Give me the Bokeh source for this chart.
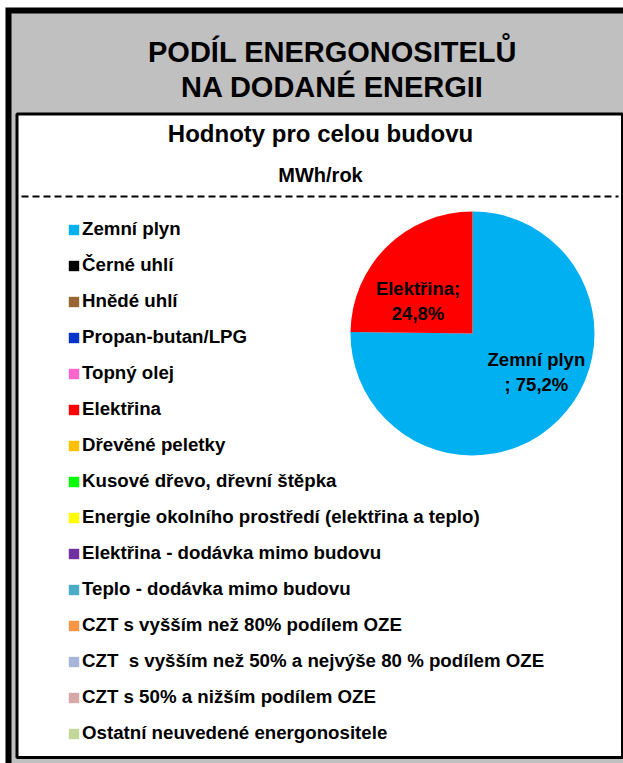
import numpy as np
from bokeh.plotting import figure
from bokeh.models import ColumnDataSource, Range1d, BoxAnnotation, Label, Legend, LegendItem
from bokeh.embed import file_html
from bokeh.resources import INLINE
from bokeh.core.properties import value

# ---------------- data ----------------
title_lines = ["PODÍL ENERGONOSITELŮ", "NA DODANÉ ENERGII"]
subtitle = "Hodnoty pro celou budovu"
unit_label = "MWh/rok"

categories = [
    "Zemní plyn",
    "Černé uhlí",
    "Hnědé uhlí",
    "Propan-butan/LPG",
    "Topný olej",
    "Elektřina",
    "Dřevěné peletky",
    "Kusové dřevo, dřevní štěpka",
    "Energie okolního prostředí (elektřina a teplo)",
    "Elektřina - dodávka mimo budovu",
    "Teplo - dodávka mimo budovu",
    "CZT s vyšším než 80% podílem OZE",
    "CZT  s vyšším než 50% a nejvýše 80 % podílem OZE",
    "CZT s 50% a nižším podílem OZE",
    "Ostatní neuvedené energonositele",
]
shares = [75.2, 0, 0, 0, 0, 24.8, 0, 0, 0, 0, 0, 0, 0, 0, 0]
colors = [
    "#00B0F0", "#000000", "#996633", "#0033CC", "#FF66CC",
    "#FF0000", "#FFC000", "#00FF00", "#FFFF00", "#7030A0",
    "#4BACC6", "#F79646", "#A6B6D8", "#D8A8A8", "#C4D79B",
]

# ---------------- layout helpers (page pixels, y measured from top) ----------------
W, H = 623, 763
def X(px):
    return px
def Y(py):
    return H - py

FONT = "Liberation Sans"

p = figure(width=W, height=H, x_range=Range1d(0, W), y_range=Range1d(0, H),
           output_backend="svg", toolbar_location=None, min_border=0)
p.axis.visible = False
p.grid.visible = False
p.outline_line_color = None
p.background_fill_color = "white"
p.border_fill_color = "white"

# outer grey panel with black top/left edge
p.add_layout(BoxAnnotation(left=X(5), right=W + 5, bottom=-5, top=Y(7), fill_color="black",
                           fill_alpha=1, line_alpha=0, level="underlay"))
p.add_layout(BoxAnnotation(left=X(11), right=W + 5, bottom=-5, top=Y(13), fill_color="#C0C0C0",
                           fill_alpha=1, line_alpha=0, level="underlay"))
# inner white panel
p.add_layout(BoxAnnotation(left=X(16.5), right=X(622), top=Y(113.5), bottom=Y(757),
                           fill_color="white", fill_alpha=1, line_color="black",
                           line_width=3, line_alpha=1, level="underlay"))

# titles
for txt, base in [(title_lines[0], 51), (title_lines[1], 86)]:
    p.add_layout(Label(x=X(332), y=Y(base), text=txt, text_align="center",
                       text_baseline="alphabetic", text_font=FONT, text_font_style="bold",
                       text_font_size="29px", text_color="black"))
p.add_layout(Label(x=X(320), y=Y(133), text=subtitle, text_align="center",
                   text_baseline="alphabetic", text_font=FONT, text_font_style="bold",
                   text_font_size="24px", text_color="black"))
p.add_layout(Label(x=X(320), y=Y(174), text=unit_label, text_align="center",
                   text_baseline="alphabetic", text_font=FONT, text_font_style="bold",
                   text_font_size="20px", text_color="black"))

# dashed separator
p.line(x=[X(21), X(618)], y=[Y(196), Y(196)], line_color="black", line_width=2, line_dash="7 4")

# ---------------- pie ----------------
vals = np.array(shares, dtype=float)
frac = vals / vals.sum()
cum = np.concatenate([[0.0], np.cumsum(frac)])
# Excel-style: first slice starts at 12 o'clock, going clockwise
end_ang = np.pi / 2 - cum[:-1] * 2 * np.pi
start_ang = np.pi / 2 - cum[1:] * 2 * np.pi

cx, cy, R = X(472), Y(333), 122
src_all = ColumnDataSource(dict(cat=categories, val=vals, color=colors,
                                start=start_ang, end=end_ang))
nz = vals > 0
src_pie = ColumnDataSource(dict(cat=[c for c, k in zip(categories, nz) if k],
                                color=[c for c, k in zip(colors, nz) if k],
                                start=start_ang[nz], end=end_ang[nz]))
pie = p.wedge(x=cx, y=cy, radius=R, radius_units="screen", start_angle="start", end_angle="end",
              direction="anticlock", fill_color="color", line_color=None, source=src_pie)
# zero-radius wedges carrying every category for the legend
leg_r = p.wedge(x=cx, y=cy, radius=0, radius_units="screen", start_angle="start", end_angle="end",
                direction="anticlock", fill_color="color", line_color=None, source=src_all)

# data labels
label_break = {"Elektřina": ";\n", "Zemní plyn": "\n; "}
label_rfrac = {"Elektřina": 0.52, "Zemní plyn": 0.61}
angle_nudge = np.deg2rad(14.5)
lx, ly, lt = [], [], []
for i, c in enumerate(categories):
    if vals[i] <= 0:
        continue
    mid = (start_ang[i] + end_ang[i]) / 2 + angle_nudge
    rr = label_rfrac.get(c, 0.6) * R
    lx.append(cx + rr * np.cos(mid))
    ly.append(cy + rr * np.sin(mid))
    pct = f"{frac[i]*100:.1f}".replace(".", ",") + "%"
    lt.append(c + label_break.get(c, "; ") + pct)
p.text(x=lx, y=ly, text=lt, text_align="center", text_baseline="middle",
       text_font=value(FONT), text_font_style="bold", text_font_size="18.5px",
       text_line_height=1.2, text_color="black")

# ---------------- legend ----------------
items = [LegendItem(label=c, renderers=[leg_r], index=i) for i, c in enumerate(categories)]
legend = Legend(items=items, location=(X(67), 19), orientation="vertical",
                glyph_width=13, glyph_height=13, label_standoff=2, spacing=14,
                label_height=22, padding=0, margin=0,
                label_text_font=FONT, label_text_font_style="bold",
                label_text_font_size="18.7px", label_text_color="black",
                border_line_alpha=0, background_fill_alpha=0)
p.add_layout(legend)

open("out.html", "w").write(file_html(p, INLINE))
